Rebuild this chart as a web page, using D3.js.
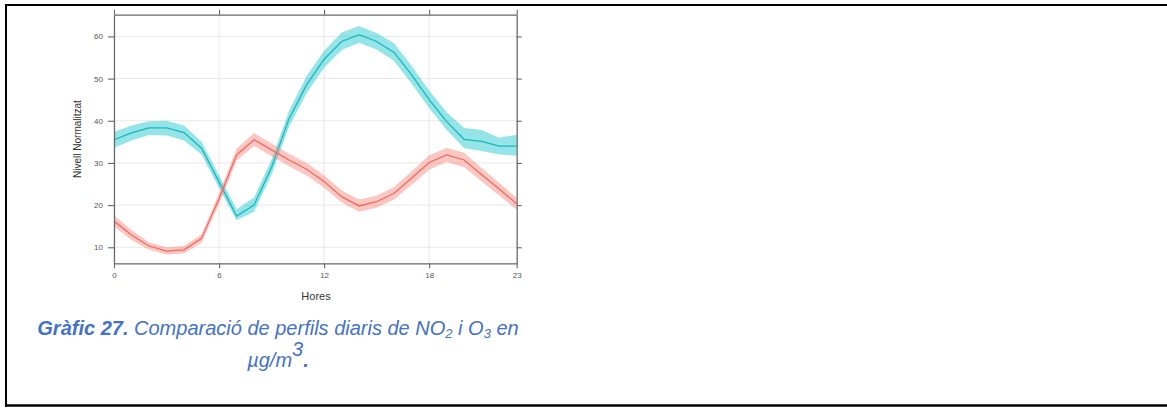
<!DOCTYPE html>
<html><head><meta charset="utf-8">
<script src="https://cdn.jsdelivr.net/npm/d3@7"></script>
<style>
html,body{margin:0;padding:0;background:#fff;}
svg{display:block;}
</style></head>
<body>
<script>
const hours = d3.range(0, 24);
const xTicks = [0, 6, 12, 18, 23];
const yTicks = [10, 20, 30, 40, 50, 60];
// O3 (teal)
const o3Mean  = [35.5,37.1,38.3,38.3,37.2,33.5,25.5,17.4,20.0,29.0,40.5,48.5,54.6,58.8,60.4,58.8,56.2,50.9,45.0,39.8,35.6,35.1,34.0,34.0];
const o3Lower = [33.6,35.3,36.6,36.5,35.3,32.0,24.0,16.4,18.4,27.2,38.6,46.5,52.6,56.8,58.5,56.9,54.2,48.8,43.0,37.8,33.5,32.8,32.0,31.7];
const o3Upper = [37.4,38.9,39.9,40.0,38.9,35.0,27.0,19.0,21.8,30.8,42.4,50.6,56.6,60.9,62.5,60.8,58.4,53.0,47.2,42.0,38.3,37.8,36.0,36.7];
// NO2 (red)
const no2Mean  = [16.2,12.9,10.3,9.1,9.4,12.1,21.5,31.9,35.5,33.1,30.7,28.5,25.6,22.0,19.8,20.8,22.8,26.4,30.1,31.9,30.7,27.2,23.8,20.3];
const no2Lower = [14.9,11.7,9.4,8.3,8.5,11.1,20.2,30.5,34.0,31.6,29.2,27.0,24.1,20.6,18.4,19.4,21.3,24.8,28.4,30.2,29.0,25.6,22.3,18.9];
const no2Upper = [17.6,14.1,11.2,10.0,10.3,13.1,22.8,33.4,37.1,34.6,32.2,30.0,27.1,23.5,21.3,22.3,24.3,28.0,31.8,33.6,32.4,28.8,25.3,21.7];

(function () {
const W = 1167, H = 408;
const svg = d3.select("body").append("svg").attr("width", W).attr("height", H);

// outer frame (left, top, bottom)
svg.append("line").attr("x1",6).attr("x2",W+5).attr("y1",5).attr("y2",5).attr("stroke","#000").attr("stroke-width",2);
svg.append("line").attr("x1",6).attr("x2",W+5).attr("y1",405.5).attr("y2",405.5).attr("stroke","#000").attr("stroke-width",2.5);
svg.append("line").attr("x1",6).attr("x2",6).attr("y1",4).attr("y2",407).attr("stroke","#000").attr("stroke-width",2);

const L = 114, R = 516.7, T = 14.7, B = 263.3;
const x = d3.scaleLinear().domain([0, 23]).range([L, R]);
const y = d3.scaleLinear().domain([6.2, 65.15]).range([B, T]);

const g = svg.append("g");
// grid
g.selectAll(".gx").data(xTicks).join("line")
  .attr("x1", d => x(d)).attr("x2", d => x(d)).attr("y1", T).attr("y2", B)
  .attr("stroke", "#e8e8e8").attr("stroke-width", 1);
g.selectAll(".gy").data(yTicks).join("line")
  .attr("x1", L).attr("x2", R).attr("y1", d => y(d)).attr("y2", d => y(d))
  .attr("stroke", "#e8e8e8").attr("stroke-width", 1);

function series(mean, lower, upper, bandColor, lineColor) {
  const area = d3.area().x((d, i) => x(hours[i])).y0((d, i) => y(lower[i])).y1((d, i) => y(upper[i]));
  const line = d3.line().x((d, i) => x(hours[i])).y(d => y(d));
  g.append("path").datum(mean).attr("d", area).attr("fill", bandColor).attr("fill-opacity", 0.45);
  g.append("path").datum(mean).attr("d", line).attr("fill", "none").attr("stroke", lineColor).attr("stroke-width", 1.3);
}
series(o3Mean, o3Lower, o3Upper, "#13c4c9", "#16b8bd");
series(no2Mean, no2Lower, no2Upper, "#f7837b", "#f26a5f");

// axes
const axColor = "#666";
const axB = svg.append("g").attr("transform", `translate(0,${B})`)
  .call(d3.axisBottom(x).tickValues(xTicks).tickSize(5).tickPadding(4).tickSizeOuter(0));
const axT = svg.append("g").attr("transform", `translate(0,${T})`)
  .call(d3.axisTop(x).tickValues(xTicks).tickSize(5).tickFormat("").tickSizeOuter(0));
const axL = svg.append("g").attr("transform", `translate(${L},0)`)
  .call(d3.axisLeft(y).tickValues(yTicks).tickSize(6).tickPadding(5).tickSizeOuter(0));
const axR = svg.append("g").attr("transform", `translate(${R},0)`)
  .call(d3.axisRight(y).tickValues(yTicks).tickSize(5).tickFormat("").tickSizeOuter(0));
[axB, axT, axL, axR].forEach(a => {
  a.select(".domain").attr("stroke", axColor).attr("stroke-width", 1.2);
  a.selectAll(".tick line").attr("stroke", axColor).attr("stroke-width", 1.1);
  a.selectAll("text").attr("fill", "#555").attr("font-family", "Liberation Sans, Arial, sans-serif").attr("font-size", 8);
});

svg.append("text").attr("x", 316).attr("y", 300).attr("text-anchor", "middle")
  .attr("font-family", "Liberation Sans, Arial, sans-serif").attr("font-size", 11).attr("fill", "#333").text("Hores");
svg.append("text").attr("transform", `translate(81,${(T + B) / 2}) rotate(-90)`).attr("text-anchor", "middle")
  .attr("font-family", "Liberation Sans, Arial, sans-serif").attr("font-size", 10).attr("fill", "#333").text("Nivell Normalitzat");

// caption
const blue = "#4472c4";
const cap = svg.append("text").attr("x", 278).attr("y", 335).attr("text-anchor", "middle")
  .attr("font-family", "Liberation Sans, Arial, sans-serif").attr("font-size", 20).attr("fill", blue).attr("font-style", "italic");
cap.append("tspan").attr("font-weight", "bold").text("Gràfic 27.");
cap.append("tspan").text(" Comparació de perfils diaris de NO");
cap.append("tspan").attr("font-size", 13).attr("dy", 3).text("2");
cap.append("tspan").attr("dy", -3).text(" i O");
cap.append("tspan").attr("font-size", 13).attr("dy", 3).text("3");
cap.append("tspan").attr("dy", -3).text(" en");

const cap2 = svg.append("text").attr("x", 278).attr("y", 367).attr("text-anchor", "middle")
  .attr("font-family", "Liberation Sans, Arial, sans-serif").attr("font-size", 20).attr("fill", blue).attr("font-style", "italic");
cap2.append("tspan").text("\u00b5g/m");
cap2.append("tspan").attr("dy", -11).text("3");
cap2.append("tspan").attr("dy", 11).attr("font-weight", "bold").text(".");
})();
</script>
</body></html>
